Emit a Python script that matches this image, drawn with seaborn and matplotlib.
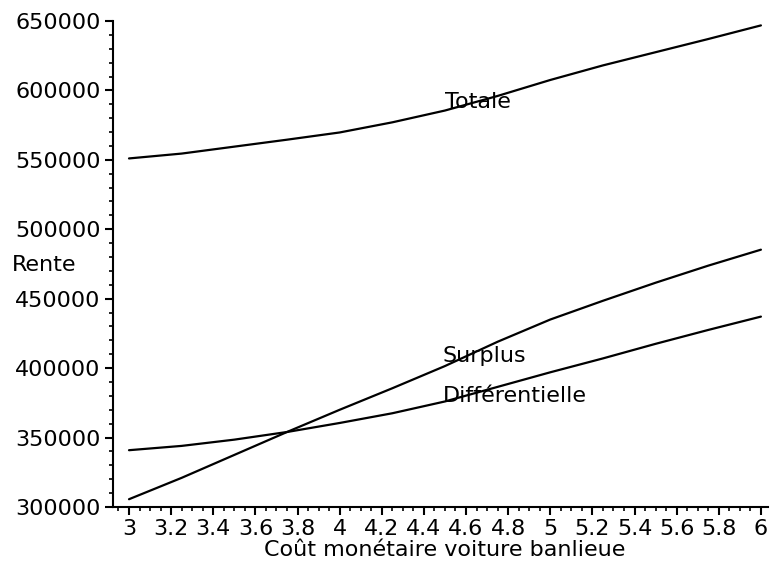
import matplotlib
matplotlib.use("Agg")
import matplotlib.pyplot as plt
import seaborn as sns
import pandas as pd
from matplotlib.ticker import MultipleLocator, FuncFormatter

# values
cout = [3.0, 3.25, 3.5, 3.75, 4.0, 4.25, 4.5, 4.75, 5.0, 5.25, 5.5, 5.75, 6.0]
totale = [551000, 554500, 559500, 564500, 569700, 577000, 585500,
          596000, 607500, 618000, 627500, 637000, 646800]
surplus = [305600, 321000, 337500, 354000, 370000, 385500, 401500,
           419000, 435000, 448500, 461500, 473800, 485300]
differentielle = [340900, 344000, 348500, 354000, 360500, 367500, 376000,
                  386500, 397000, 407000, 417500, 427500, 437100]

series_names = ["Totale", "Surplus", "Différentielle"]
label_pos = {"Totale": (4.5, 591800), "Surplus": (4.49, 409000),
             "Différentielle": (4.49, 380100)}

df = pd.DataFrame({
    "cout": cout * 3,
    "rente": totale + surplus + differentielle,
    "serie": [s for s in series_names for _ in cout],
})

sns.set_theme(style="ticks")
plt.rcParams["font.family"] = ["DejaVu Sans"]
plt.rcParams["font.size"] = 16
plt.rcParams["text.color"] = "black"
plt.rcParams["axes.labelcolor"] = "black"

fig = plt.figure(figsize=(7.75, 5.68), dpi=100)
ax = fig.add_axes([0.1458, 0.1074, 0.845, 0.8557])

sns.lineplot(data=df, x="cout", y="rente", hue="serie",
             palette=["black"] * 3, linewidth=1.6, legend=False, ax=ax)

for name in series_names:
    x, y = label_pos[name]
    ax.text(x, y, name, ha="left", va="center", fontsize=16, color="black")

ax.set_xlim(2.924, 6.033)
ax.set_ylim(300000, 650000)

ax.xaxis.set_major_locator(MultipleLocator(0.2))
ax.xaxis.set_minor_locator(MultipleLocator(0.05))
ax.yaxis.set_major_locator(MultipleLocator(50000))
ax.yaxis.set_minor_locator(MultipleLocator(10000))
ax.xaxis.set_major_formatter(FuncFormatter(lambda v, p: f"{v:g}" if v >= 2.99 else ""))
ax.yaxis.set_major_formatter(FuncFormatter(lambda v, p: f"{v:.0f}"))

ax.tick_params(axis="both", which="major", length=6, width=1.5, pad=3,
               labelsize=16, color="black", labelcolor="black")
ax.tick_params(axis="both", which="minor", length=3, width=1.2, color="black")

for side in ["top", "right"]:
    ax.spines[side].set_visible(False)
for side in ["left", "bottom"]:
    ax.spines[side].set_linewidth(1.5)
    ax.spines[side].set_color("black")

ax.set_xlabel("Coût monétaire voiture banlieue", fontsize=16, va="center")
ax.xaxis.set_label_coords(0.507, -0.088)
ax.set_ylabel("Rente", rotation=0, ha="left", va="center", fontsize=16)
ax.yaxis.set_label_coords(-0.154, 0.498)

fig.savefig("out.png", dpi=100)
